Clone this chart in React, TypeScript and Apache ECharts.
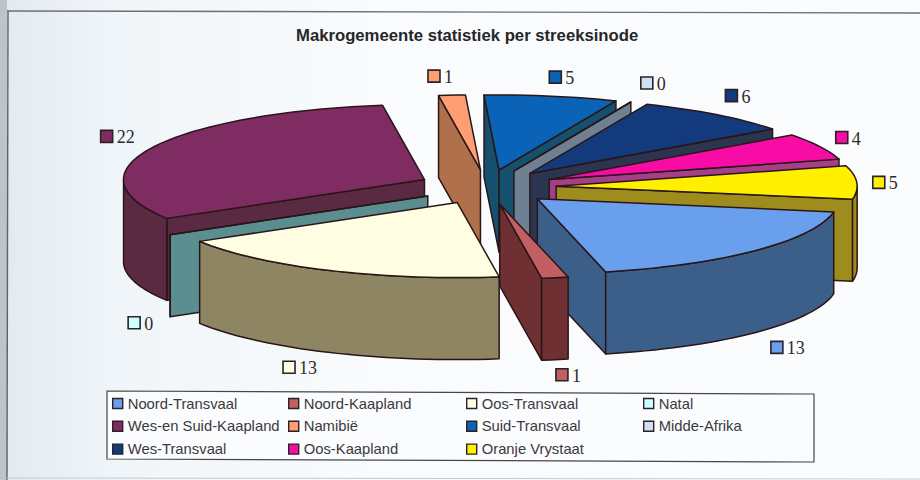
import React, { useEffect, useRef } from "react";
import * as echarts from "echarts";

const TITLE = "Makrogemeente statistiek per streeksinode";
const categories = ["Noord-Transvaal", "Noord-Kaapland", "Oos-Transvaal", "Natal", "Wes-en Suid-Kaapland", "Namibië", "Suid-Transvaal", "Midde-Afrika", "Wes-Transvaal", "Oos-Kaapland", "Oranje Vrystaat"];
const values = [13, 1, 13, 0, 22, 1, 5, 0, 6, 4, 5];
const topColors = ["#6A9FEE", "#C25F63", "#FFFDE2", "#CCFFFF", "#7F2C62", "#FF9E73", "#0A63B6", "#CFE0F2", "#123A7C", "#F70DA6", "#FFF000"];
const wallColors = ["#3C5F8A", "#6E3033", "#8E8562", "#5A8E90", "#5A2A42", "#B0704C", "#15506F", "#6F8092", "#2C3550", "#A63E88", "#9E8C1C"];
// Painter's order, back to front
const paintOrder = [5, 6, 7, 8, 9, 10, 0, 4, 3, 2, 1];
// Label key position relative to each slice's outer arc midpoint
const labelNudges = [[21, 15], [7, 15], [-39, 15], [-36, 6], [-46, -11], [-18, -19], [4, -19], [16, -19], [15, -19], [22, -9], [22, 0]];
const legendColumns = [[0, 4, 8], [1, 5, 9], [2, 6, 10], [3, 7]];
const legendColumnX = [112, 288, 466, 643];

const CX = 487, CY = 187, RX = 301, RY = 75, DEPTH = 82, EXPLODE = 0.23, START = -10;
const EDGE = "#2A1618";
const total = values.reduce((a, b) => a + b, 0);
const rad = (d: number) => (d * Math.PI) / 180;

function slicePlacement(i: number) {
  let cum = 0;
  for (let k = 0; k < i; k++) cum += values[k];
  const a1 = START - (cum / total) * 360;
  const a2 = a1 - (values[i] / total) * 360;
  const mid = (a1 + a2) / 2;
  return { a1, a2, mid, cx: CX + EXPLODE * RX * Math.cos(rad(mid)), cy: CY - EXPLODE * RY * Math.sin(rad(mid)) };
}

function makeRender(i: number) {
  return (_p: any, api: any) => {
    const v = api.value(0);
    const { a1, a2, mid, cx, cy } = slicePlacement(i);
    const pt = (a: number, d = 0) => [cx + RX * Math.cos(rad(a)), cy - RY * Math.sin(rad(a)) + d];
    const arc: number[][] = [];
    const steps = Math.max(1, Math.ceil((a1 - a2) / 2));
    for (let s = 0; s <= steps; s++) arc.push(pt(a1 + ((a2 - a1) * s) / steps));
    const wallStyle = { fill: wallColors[i], stroke: EDGE, lineWidth: 1.5, lineJoin: "round" };
    const children: any[] = [];
    const radial = (a: number) => {
      const p = pt(a);
      children.push({ type: "polygon", shape: { points: [[cx, cy], p, [p[0], p[1] + DEPTH], [cx, cy + DEPTH]] }, style: wallStyle });
    };
    if (Math.cos(rad(a1)) < 0) radial(a1);
    if (Math.cos(rad(a2)) > 0) radial(a2);
    // Outer wall: only the arc's part on the near half of the ellipse
    const near: number[] = [];
    for (let s = 0; s <= steps; s++) {
      const a = a1 + ((a2 - a1) * s) / steps;
      if (Math.sin(rad(a)) <= 0.001) near.push(a);
    }
    if (near.length > 1) {
      const upper = near.map((a) => pt(a));
      const lower = near.map((a) => pt(a, DEPTH)).reverse();
      children.push({ type: "polygon", shape: { points: upper.concat(lower) }, style: wallStyle });
    }
    children.push({ type: "polygon", shape: { points: [[cx, cy], ...arc] }, style: { fill: topColors[i], stroke: EDGE, lineWidth: 1.5, lineJoin: "round" } });
    // Value label with key
    const m = pt(mid, Math.sin(rad(mid)) < 0 ? DEPTH : 0);
    const kx = m[0] + labelNudges[i][0], ky = m[1] + labelNudges[i][1];
    children.push({ type: "rect", shape: { x: kx - 6, y: ky - 6, width: 12, height: 12 }, style: { fill: topColors[i], stroke: "#2A2226", lineWidth: 1.6 } });
    children.push({ type: "text", style: { text: String(v), x: kx + 10, y: ky + 1, align: "left", verticalAlign: "middle", fill: "#2B2B2B", fontFamily: "Liberation Serif", fontSize: 18 } });
    return { type: "group", children };
  };
}

export default function App() {
  const ref = useRef<HTMLDivElement>(null);
  useEffect(() => {
    document.body.style.margin = "0";
    const chart = echarts.init(ref.current!, undefined, { renderer: "svg" });
    const option: any = {
      animation: false,
      backgroundColor: new echarts.graphic.LinearGradient(0, 0, 1, 0, [
        { offset: 0, color: "#E2E9F0" },
        { offset: 0.12, color: "#F0F5F9" },
        { offset: 0.4, color: "#F9FBFC" },
        { offset: 1, color: "#FBFCFD" },
      ]),
      title: {
        text: TITLE,
        left: 291,
        top: 22,
        textStyle: { fontFamily: "Liberation Sans", fontWeight: "bold", fontSize: 16.7, color: "#26262A" },
      },
      legend: legendColumns.map((col, c) => ({
        orient: "vertical",
        left: legendColumnX[c],
        top: 396,
        padding: 0,
        icon: "rect",
        itemWidth: 10,
        itemHeight: 10,
        itemGap: 7.8,
        selectedMode: false,
        data: col.map((i) => categories[i]),
        itemStyle: { borderColor: "#2A2226", borderWidth: 1.4 },
        textStyle: { fontFamily: "Liberation Sans", fontSize: 14.8, color: "#3A3A40", lineHeight: 14 },
      })),
      graphic: [
        { type: "rect", shape: { x: 0, y: 0, width: 7, height: 480 }, style: { fill: "#BCC5CB" }, silent: true },
        { type: "line", shape: { x1: 7, y1: 11, x2: 920, y2: 13 }, style: { stroke: "#6C7074", lineWidth: 1.4 }, silent: true },
        { type: "line", shape: { x1: 8, y1: 11, x2: 7, y2: 480 }, style: { stroke: "#5E6468", lineWidth: 1.4 }, silent: true },
        { type: "line", shape: { x1: 7, y1: 478, x2: 920, y2: 479 }, style: { stroke: "#C4CBD0", lineWidth: 1 }, silent: true },
        { type: "polygon", shape: { points: [[107, 391], [814, 394], [814, 462], [107, 459]] }, style: { fill: "#FBFCFD", stroke: "#45474A", lineWidth: 1.2 }, silent: true },
      ],
      series: paintOrder.map((i) => ({
        type: "custom",
        name: categories[i],
        coordinateSystem: "none",
        silent: true,
        itemStyle: { color: topColors[i] },
        data: [[values[i]]],
        renderItem: makeRender(i),
      })),
    };
    chart.setOption(option);
    return () => chart.dispose();
  }, []);
  return <div ref={ref} style={{ width: 920, height: 480 }} />;
}
